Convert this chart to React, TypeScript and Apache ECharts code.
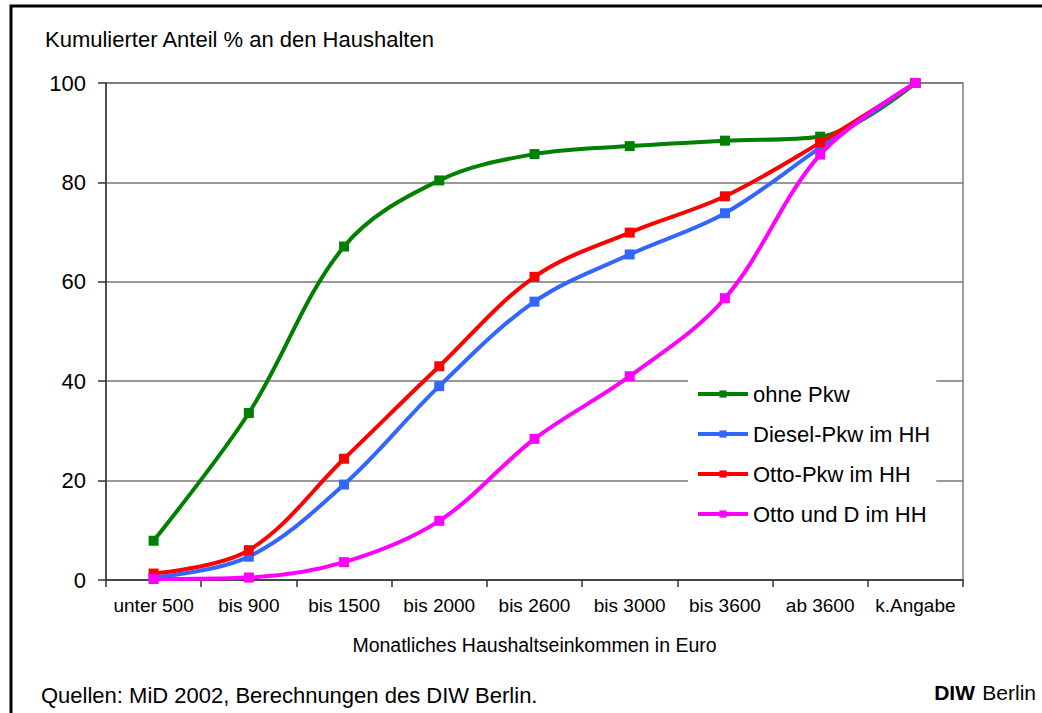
import React, { useEffect, useRef } from "react";
import * as echarts from "echarts";

const categories = ["unter 500", "bis 900", "bis 1500", "bis 2000", "bis 2600", "bis 3000", "bis 3600", "ab 3600", "k.Angabe"];
const ohnePkw = [7.9, 33.6, 67.1, 80.4, 85.7, 87.3, 88.4, 89.2, 100];
const dieselPkw = [0.5, 4.7, 19.2, 39.0, 56.0, 65.5, 73.8, 87.0, 100];
const ottoPkw = [1.3, 6.0, 24.4, 43.0, 61.0, 69.9, 77.2, 88.0, 100];
const ottoUndD = [0.2, 0.5, 3.6, 11.9, 28.4, 41.0, 56.7, 85.6, 100];
const seriesNames = ["ohne Pkw", "Diesel-Pkw im HH", "Otto-Pkw im HH", "Otto und D im HH"];
const seriesColors = ["#008000", "#3366FF", "#FF0000", "#FF00FF"];
const yTicks = [0, 20, 40, 60, 80, 100];

const FONT = "'Liberation Sans', Arial, sans-serif";

export default function App() {
  const ref = useRef<HTMLDivElement>(null);
  useEffect(() => {
    document.body.style.margin = "0";
    const chart = echarts.init(ref.current!, null, { renderer: "svg" });
    const data = [ohnePkw, dieselPkw, ottoPkw, ottoUndD];
    chart.setOption({
      animation: false,
      backgroundColor: "#fff",
      textStyle: { fontFamily: FONT },
      title: {
        text: "Kumulierter Anteil % an den Haushalten",
        left: 40,
        top: 23,
        textStyle: { fontFamily: FONT, fontSize: 22, fontWeight: "normal", color: "#000" },
      },
      grid: {
        left: 106,
        right: 79,
        top: 83,
        bottom: 133,
        show: true,
        borderColor: "#808080",
        borderWidth: 1.5,
      },
      legend: {
        orient: "vertical",
        left: 688,
        top: 377,
        padding: [6, 6, 6, 8],
        backgroundColor: "#fff",
        itemWidth: 50,
        itemHeight: 9,
        itemGap: 18,
        selectedMode: false,
        lineStyle: { width: 4 },
        textStyle: { fontFamily: FONT, fontSize: 22, color: "#000", padding: [0, 0, 0, 0] },
        data: seriesNames,
      },
      xAxis: {
        type: "category",
        data: categories,
        boundaryGap: true,
        name: "Monatliches Haushaltseinkommen in Euro",
        nameLocation: "middle",
        nameGap: 55,
        nameTextStyle: { fontFamily: FONT, fontSize: 19.5, color: "#000" },
        axisLine: { show: true, lineStyle: { color: "#333", width: 1.5 } },
        axisTick: { show: true, alignWithLabel: false, length: 7, lineStyle: { color: "#333", width: 1.5 } },
        axisLabel: { interval: 0, margin: 16, fontFamily: FONT, fontSize: 19, color: "#000" },
        splitLine: { show: false },
      },
      yAxis: {
        type: "value",
        min: yTicks[0],
        max: yTicks[yTicks.length - 1],
        interval: 20,
        axisLine: { show: true, lineStyle: { color: "#333", width: 1.5 } },
        axisTick: { show: true, inside: false, length: 8, lineStyle: { color: "#333", width: 1.5 } },
        axisLabel: { margin: 20, fontFamily: FONT, fontSize: 22, color: "#000" },
        splitLine: { show: true, lineStyle: { color: "#777", width: 1.5 } },
      },
      series: seriesNames.map((name, i) => ({
        name,
        type: "line",
        data: data[i],
        smooth: 0.35,
        symbol: "rect",
        symbolSize: 10,
        showSymbol: true,
        lineStyle: { color: seriesColors[i], width: 4 },
        itemStyle: { color: seriesColors[i] },
        z: 2 + i,
      })),
      graphic: [
        {
          type: "rect",
          shape: { x: 11, y: 6, width: 1200, height: 900 },
          style: { fill: "none", stroke: "#000", lineWidth: 3 },
          silent: true,
          z: 100,
        },
        {
          type: "text",
          x: 41,
          y: 695,
          style: {
            text: "Quellen: MiD 2002, Berechnungen des DIW Berlin.",
            font: `22px ${FONT}`,
            fill: "#000",
            align: "left",
            verticalAlign: "middle",
          },
        },
        {
          type: "text",
          x: 1036,
          y: 692,
          style: {
            text: "Berlin",
            font: `21px ${FONT}`,
            fill: "#000",
            align: "right",
            verticalAlign: "middle",
          },
        },
        {
          type: "text",
          x: 975,
          y: 692,
          style: {
            text: "DIW",
            font: `bold 21px ${FONT}`,
            fill: "#000",
            align: "right",
            verticalAlign: "middle",
          },
        },
      ],
    });
    return () => chart.dispose();
  }, []);
  return <div ref={ref} style={{ width: 1042, height: 713 }} />;
}
